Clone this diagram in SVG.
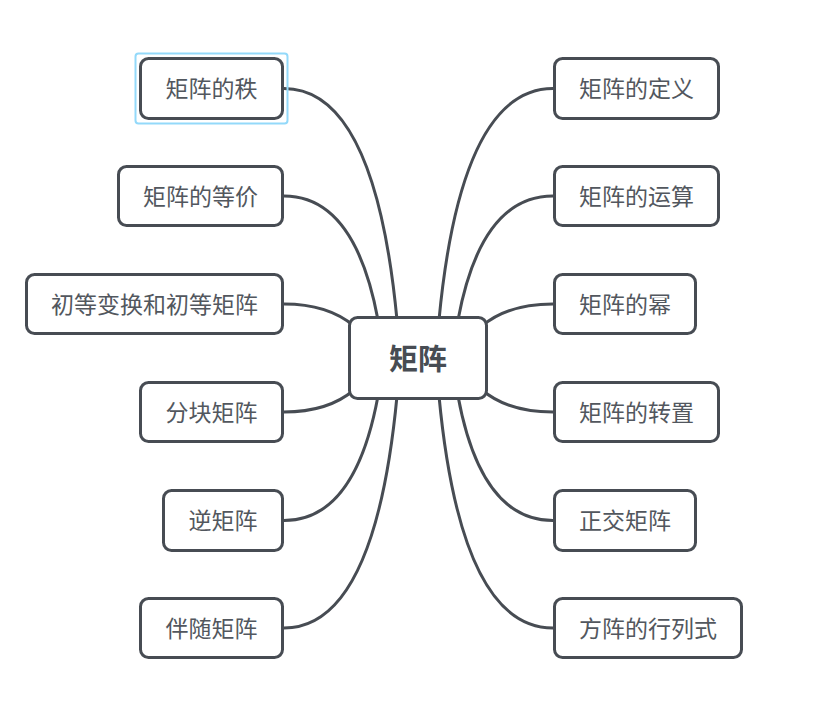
<svg xmlns="http://www.w3.org/2000/svg" width="835" height="707" viewBox="0 0 835 707">
<style>
.node rect{fill:#ffffff;stroke:#474c53;stroke-width:3}
.node rect.sel{fill:none;stroke:#93d9fa;stroke-width:2}
.node text{font-family:"Noto Sans CJK SC","Microsoft YaHei",sans-serif;font-size:23px;fill:#52575e;text-anchor:middle;dominant-baseline:central}
.root text{font-size:29px;font-weight:bold;fill:#474c53}
#connectors path{fill:none;stroke:#474c53;stroke-width:3;stroke-linecap:round}
</style>
<rect width="835" height="707" fill="#ffffff"/>
<g id="connectors">
<path d="M 284 88.5 Q 375 88.5 397 320"/>
<path d="M 284 196 Q 355 196 378 320"/>
<path d="M 284 304 Q 328 304 354 326"/>
<path d="M 284 412 Q 328 412 354 390"/>
<path d="M 284 520.5 Q 355 520.5 378 396"/>
<path d="M 284 628 Q 375 628 397 396"/>
<path d="M 553 88.5 Q 461 88.5 439 320"/>
<path d="M 553 196 Q 481 196 458 320"/>
<path d="M 553 304 Q 508 304 482 326"/>
<path d="M 553 412 Q 508 412 482 390"/>
<path d="M 553 520.5 Q 481 520.5 458 396"/>
<path d="M 553 628 Q 461 628 439 396"/>
</g>
<g id="node-root" class="node root">
<rect x="349.5" y="317.5" width="137" height="81" rx="8"/>
<text x="418" y="356.5">矩阵</text>
</g>
<g id="node-rank" class="node">
<rect class="sel" x="135.5" y="53.5" width="152" height="70" rx="3"/>
<rect x="140.5" y="58.5" width="142" height="60" rx="8"/>
<text x="211.5" y="87">矩阵的秩</text>
</g>
<g id="node-equiv" class="node">
<rect x="118.5" y="166.5" width="164" height="59" rx="8"/>
<text x="200.5" y="194.5">矩阵的等价</text>
</g>
<g id="node-elem" class="node">
<rect x="26.5" y="274.5" width="256" height="59" rx="8"/>
<text x="154.5" y="302.5">初等变换和初等矩阵</text>
</g>
<g id="node-block" class="node">
<rect x="140.5" y="382.5" width="142" height="59" rx="8"/>
<text x="211.5" y="410.5">分块矩阵</text>
</g>
<g id="node-inverse" class="node">
<rect x="163.5" y="490.5" width="119" height="60" rx="8"/>
<text x="223" y="519">逆矩阵</text>
</g>
<g id="node-adjoint" class="node">
<rect x="140.5" y="598.5" width="142" height="59" rx="8"/>
<text x="211.5" y="626.5">伴随矩阵</text>
</g>
<g id="node-def" class="node">
<rect x="554.5" y="58.5" width="164" height="60" rx="8"/>
<text x="636.5" y="87">矩阵的定义</text>
</g>
<g id="node-ops" class="node">
<rect x="554.5" y="166.5" width="164" height="59" rx="8"/>
<text x="636.5" y="194.5">矩阵的运算</text>
</g>
<g id="node-power" class="node">
<rect x="554.5" y="274.5" width="141" height="59" rx="8"/>
<text x="625" y="302.5">矩阵的幂</text>
</g>
<g id="node-transpose" class="node">
<rect x="554.5" y="382.5" width="164" height="59" rx="8"/>
<text x="636.5" y="410.5">矩阵的转置</text>
</g>
<g id="node-orth" class="node">
<rect x="554.5" y="490.5" width="141" height="60" rx="8"/>
<text x="625" y="519">正交矩阵</text>
</g>
<g id="node-det" class="node">
<rect x="554.5" y="598.5" width="187" height="59" rx="8"/>
<text x="648" y="626.5">方阵的行列式</text>
</g>
</svg>
